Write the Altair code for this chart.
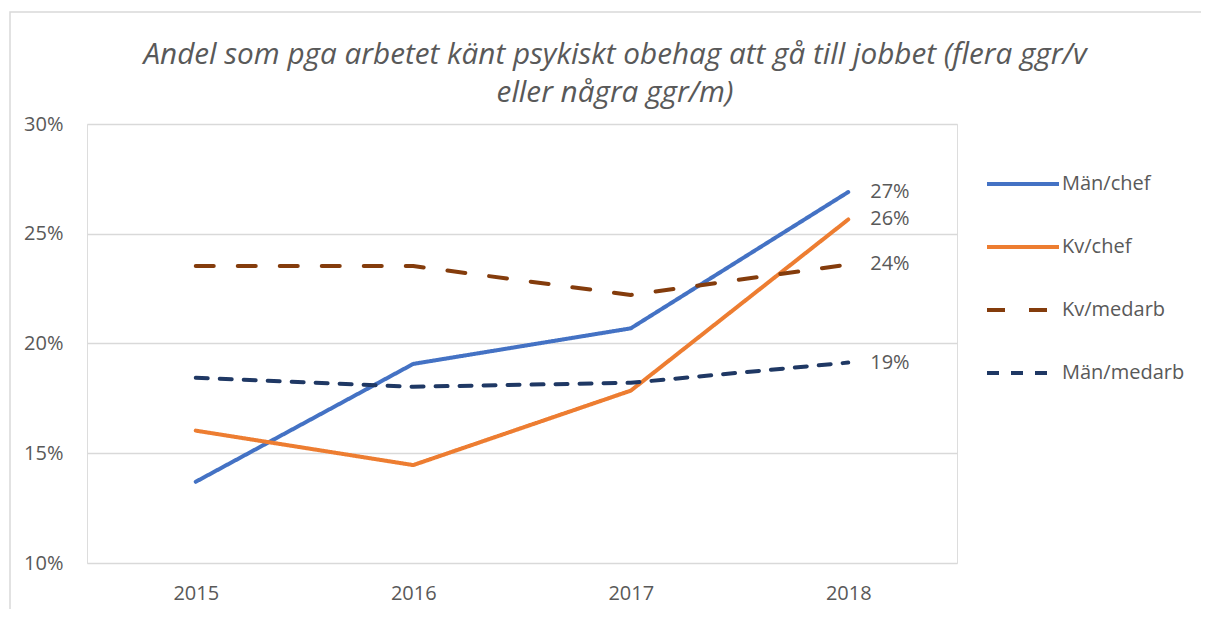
import altair as alt
import pandas as pd

years = ["2015", "2016", "2017", "2018"]
series = ["Män/chef", "Kv/chef", "Kv/medarb", "Män/medarb"]
man_chef = [0.137, 0.1907, 0.2069, 0.269]
kv_chef = [0.1603, 0.1446, 0.1785, 0.2565]
kv_medarb = [0.2353, 0.2353, 0.2221, 0.2360]
man_medarb = [0.1844, 0.1803, 0.1821, 0.1913]
colors = ["#4472C4", "#ED7D31", "#843C0C", "#1F3864"]
dashes = [[1, 0], [1, 0], [18, 24], [12, 12]]
y_ticks = [0.10, 0.15, 0.20, 0.25, 0.30]
title_lines = [
    "Andel som pga arbetet känt psykiskt obehag att gå till jobbet (flera ggr/v",
    "eller några ggr/m)",
]

values = {"Män/chef": man_chef, "Kv/chef": kv_chef, "Kv/medarb": kv_medarb, "Män/medarb": man_medarb}
rows = []
for s in series:
    for y, v in zip(years, values[s]):
        rows.append({"year": y, "series": s, "value": v})
df = pd.DataFrame(rows)

FONT = "Open Sans"
GREY = "#595959"

x_enc = alt.X("year:O", scale=alt.Scale(type="point", padding=0.5),
              axis=alt.Axis(title=None, labelAngle=0, ticks=False, domain=False,
                            labelPadding=20, labelFontSize=20, labelColor=GREY, labelFont=FONT))
y_enc = alt.Y("value:Q", scale=alt.Scale(domain=[0.10, 0.30], nice=False, zero=False),
              axis=alt.Axis(title=None, values=y_ticks, format=".0%", ticks=False, domain=False,
                            labelPadding=24, labelFontSize=20, labelColor=GREY, labelFont=FONT,
                            grid=True, gridColor="#D9D9D9", gridWidth=1.3))

legend_cfg = dict(title=None, orient="none", legendX=898, legendY=22,
                  symbolType="stroke", symbolSize=5184, symbolStrokeWidth=4,
                  labelFontSize=20, labelFont=FONT, labelColor=GREY,
                  labelOffset=1, rowPadding=15, padding=0)

lines = alt.Chart(df).mark_line(strokeWidth=4, strokeCap="round", strokeJoin="round").encode(
    x=x_enc,
    y=y_enc,
    color=alt.Color("series:N", scale=alt.Scale(domain=series, range=colors),
                    legend=alt.Legend(**legend_cfg)),
    strokeDash=alt.StrokeDash("series:N", scale=alt.Scale(domain=series, range=dashes),
                              legend=alt.Legend(**legend_cfg)),
    detail="series:N",
)

labels = alt.Chart(df).transform_filter(alt.datum.year == "2018").mark_text(
    align="left", baseline="middle", dx=22, fontSize=20, font=FONT, color=GREY
).encode(
    x=alt.X("year:O", scale=alt.Scale(type="point", padding=0.5)),
    y=alt.Y("value:Q"),
    text=alt.Text("value:Q", format=".0%"),
)

frame = alt.Chart(alt.Data(values=[{}])).mark_rect(filled=False, stroke="#D9D9D9", strokeWidth=1.5).encode(
    x=alt.value(-77), x2=alt.value(1200), y=alt.value(-112), y2=alt.value(600)
)

chart = alt.layer(frame, lines, labels).properties(
    width=870,
    height=439,
    title=alt.TitleParams(text=title_lines, font=FONT, fontSize=29.7, fontStyle="italic",
                          fontWeight="normal", color=GREY, anchor="middle", dx=93,
                          lineHeight=38, offset=16, dy=113),
    autosize=alt.AutoSizeParams(type="none"),
    padding={"left": 79, "top": 116, "right": 244, "bottom": 46},
).configure_view(stroke="transparent").configure(background="white")

chart.save("out.html", embed_options={"renderer": "svg", "actions": False})
